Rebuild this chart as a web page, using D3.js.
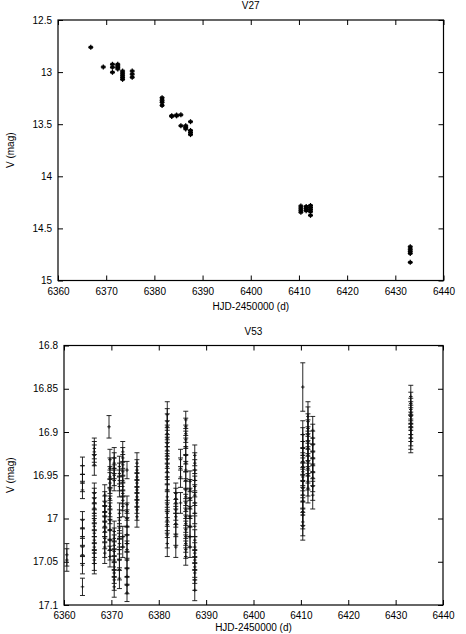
<!DOCTYPE html>
<html>
<head>
<meta charset="utf-8">
<script src="https://cdn.jsdelivr.net/npm/d3@7"></script>
<style>
  body { margin: 0; background: #fff; }
  text { font-family: "Liberation Sans", Arial, sans-serif; font-size: 10px; fill: #000; }
</style>
</head>
<body>
<div id="chart"></div>
<script>
// V27 nights: HJD-2450000, magnitudes on that night, typical error
const v27Hjd = [6366.8, 6369.4, 6371.3, 6372.4, 6373.4, 6375.4, 6381.6, 6383.6, 6384.6, 6385.5, 6386.5, 6387.5, 6410.4, 6411.5, 6412.4, 6433.1];
const v27Mag = [
  [12.762],
  [12.951],
  [12.925, 12.954, 13.002],
  [12.925, 12.94, 12.955, 12.97],
  [12.99, 13.01, 13.03, 13.05, 13.07],
  [12.99, 13.02, 13.05],
  [13.246, 13.27, 13.29, 13.32],
  [13.418, 13.425],
  [13.412, 13.42],
  [13.41, 13.515],
  [13.515, 13.53, 13.545],
  [13.476, 13.56, 13.58, 13.6],
  [14.285, 14.305, 14.325, 14.345],
  [14.29, 14.31, 14.33],
  [14.28, 14.3, 14.32, 14.34, 14.375],
  [14.676, 14.70, 14.72, 14.74, 14.826]
];
const v27Err = [0.008, 0.008, 0.008, 0.008, 0.008, 0.008, 0.008, 0.008, 0.008, 0.008, 0.008, 0.008, 0.008, 0.008, 0.008, 0.008];

// V53 nights
const v53Hjd = [6360.6, 6363.9, 6366.4, 6368.6, 6369.5, 6369.7, 6370.6, 6371.7, 6372.4, 6373.3, 6375.4,
                6381.8, 6383.6, 6384.6, 6385.7, 6386.6, 6387.6, 6410.4, 6410.4, 6411.5, 6412.5, 6433.2];
const v53Mag = [
  [17.042, 17.048],
  [16.939, 16.949, 16.959, 16.967, 17.002, 17.011, 17.021, 17.033, 17.042, 17.054, 17.079],
  [16.919, 16.923, 16.927, 16.938, 16.971, 16.977, 16.982, 16.988, 16.994, 17.002, 17.009, 17.017, 17.025, 17.033, 17.040, 17.048, 17.052],
  [16.973, 16.981, 16.986, 16.992, 16.998, 17.004, 17.009, 17.015, 17.023, 17.033, 17.040],
  [16.894],
  [16.932, 16.942, 16.952, 16.959, 16.967, 16.977, 16.986, 16.994, 17.002, 17.013, 17.025, 17.036, 17.044],
  [16.930, 16.936, 16.942, 16.950, 16.956, 17.015, 17.023, 17.031, 17.038, 17.048, 17.056, 17.063, 17.071, 17.079],
  [16.940, 16.948, 16.956, 16.963, 16.994, 17.002, 17.011, 17.021, 17.029, 17.036, 17.048, 17.059, 17.069],
  [16.923, 16.930, 16.938, 16.946, 16.956, 16.963, 16.971, 16.979, 16.986, 17.021, 17.033],
  [16.944, 16.984, 16.992, 17.000, 17.009, 17.019, 17.029, 17.036, 17.048, 17.058, 17.067, 17.077, 17.086],
  [16.936, 16.944, 16.952, 16.959, 16.967, 16.975, 16.982, 16.990, 16.998],
  [16.880, 16.888, 16.894, 16.902, 16.907, 16.913, 16.921, 16.927, 16.932, 16.940, 16.946, 16.952, 16.967, 16.975, 16.984, 16.994, 17.002, 17.007, 17.019, 17.029],
  [16.971, 16.977, 16.982, 16.990, 16.998, 17.006, 17.019, 17.033],
  [16.932, 16.942, 16.952, 16.982],
  [16.886, 16.894, 16.902, 16.909, 16.917, 16.927, 16.936, 16.944, 16.956, 16.967, 16.975, 16.982, 16.990, 16.998, 17.006, 17.013, 17.021, 17.029, 17.036, 17.044],
  [16.957, 16.967, 16.977, 16.988, 16.998, 17.009, 17.021, 17.033],
  [16.927, 16.936, 16.944, 16.956, 16.963, 16.973, 16.982, 16.994, 17.009, 17.025, 17.033, 17.040, 17.048, 17.056, 17.063, 17.071, 17.083],
  [16.848],
  [16.903, 16.911, 16.919, 16.927, 16.934, 16.940, 16.946, 16.952, 16.957, 16.965, 16.973, 16.980, 16.992, 16.996, 17.004, 17.009],
  [16.882, 16.888, 16.896, 16.903, 16.911, 16.919, 16.927, 16.934, 16.942, 16.950, 16.957, 16.965],
  [16.898, 16.907, 16.915, 16.923, 16.930, 16.938, 16.946, 16.953, 16.963, 16.973],
  [16.859, 16.867, 16.874, 16.878, 16.882, 16.890, 16.894, 16.898, 16.903, 16.907, 16.911]
];
const v53Err = [0.013, 0.010, 0.012, 0.012, 0.013, 0.012, 0.012, 0.012, 0.012, 0.010, 0.012,
                0.015, 0.012, 0.012, 0.010, 0.012, 0.012, 0.028, 0.016, 0.017, 0.016, 0.013];

const hjdTicks = [6360, 6370, 6380, 6390, 6400, 6410, 6420, 6430, 6440];
const v27Ticks = [12.5, 13, 13.5, 14, 14.5, 15];
const v53Ticks = [16.8, 16.85, 16.9, 16.95, 17, 17.05, 17.1];

const W = 466, H = 634;
const svg = d3.select("#chart").append("svg").attr("width", W).attr("height", H);
svg.append("rect").attr("width", W).attr("height", H).attr("fill", "#fff");

function flatten(hjd, mags, errs) {
  const out = [];
  hjd.forEach((t, i) => mags[i].forEach(m => out.push({ t, m, e: errs[i] })));
  return out;
}

function panel(opt) {
  const x = d3.scaleLinear().domain([6360, 6440]).range([opt.left, opt.right]);
  const y = d3.scaleLinear().domain(opt.ydom).range([opt.top, opt.bottom]);
  const g = svg.append("g");

  const fmt = d => String(d);
  g.append("g").attr("transform", `translate(0,${opt.bottom})`)
    .call(d3.axisBottom(x).tickValues(hjdTicks).tickFormat(fmt).tickSize(-5).tickPadding(7));
  g.append("g").attr("transform", `translate(0,${opt.top})`)
    .call(d3.axisTop(x).tickValues(hjdTicks).tickFormat("").tickSize(-5));
  g.append("g").attr("transform", `translate(${opt.left},0)`)
    .call(d3.axisLeft(y).tickValues(opt.yticks).tickFormat(fmt).tickSize(-5).tickPadding(6));
  g.append("g").attr("transform", `translate(${opt.right},0)`)
    .call(d3.axisRight(y).tickValues(opt.yticks).tickFormat("").tickSize(-5));
  g.selectAll(".domain").remove();
  g.selectAll(".tick line").attr("stroke", "#000");
  g.selectAll(".tick text").style("font-size", "10px").attr("fill", "#000");

  g.append("rect")
    .attr("x", opt.left).attr("y", opt.top)
    .attr("width", opt.right - opt.left).attr("height", opt.bottom - opt.top)
    .attr("fill", "none").attr("stroke", "#000").attr("stroke-width", 1.2);

  // error bars with caps and + markers
  const pts = flatten(opt.hjd, opt.mags, opt.errs);
  const m = g.append("g").attr("stroke", opt.col).attr("stroke-width", opt.sw);
  const p = pts.map(d => ({ cx: x(d.t), cy: y(d.m), y0: y(d.m - d.e), y1: y(d.m + d.e) }));
  m.selectAll(".bar").data(p).join("line")
    .attr("x1", d => d.cx).attr("x2", d => d.cx).attr("y1", d => d.y0).attr("y2", d => d.y1);
  m.selectAll(".cap0").data(p).join("line")
    .attr("x1", d => d.cx - opt.cap).attr("x2", d => d.cx + opt.cap).attr("y1", d => d.y0).attr("y2", d => d.y0);
  m.selectAll(".cap1").data(p).join("line")
    .attr("x1", d => d.cx - opt.cap).attr("x2", d => d.cx + opt.cap).attr("y1", d => d.y1).attr("y2", d => d.y1);
  m.selectAll(".ph").data(p).join("line")
    .attr("x1", d => d.cx - opt.ps).attr("x2", d => d.cx + opt.ps).attr("y1", d => d.cy).attr("y2", d => d.cy);
  m.selectAll(".pv").data(p).join("line")
    .attr("x1", d => d.cx).attr("x2", d => d.cx).attr("y1", d => d.cy - opt.ps).attr("y2", d => d.cy + opt.ps);

  const cx = (opt.left + opt.right) / 2;
  g.append("text").attr("x", cx).attr("y", opt.top - 11).attr("text-anchor", "middle").text(opt.title);
  g.append("text").attr("x", cx).attr("y", Math.min(opt.bottom + 29, H - 3)).attr("text-anchor", "middle").text("HJD-2450000 (d)");
  g.append("text")
    .attr("transform", `translate(14,${(opt.top + opt.bottom) / 2}) rotate(-90)`)
    .attr("text-anchor", "middle").text("V (mag)");
}

panel({ title: "V27", left: 58, right: 443.5, top: 20, bottom: 280.5, ydom: [12.5, 15],
        yticks: v27Ticks, hjd: v27Hjd, mags: v27Mag, errs: v27Err, cap: 2, ps: 2.5, sw: 1.3, col: "#000" });
panel({ title: "V53", left: 64, right: 443, top: 345.5, bottom: 605, ydom: [16.8, 17.1],
        yticks: v53Ticks, hjd: v53Hjd, mags: v53Mag, errs: v53Err, cap: 2.5, ps: 1.8, sw: 0.9, col: "#111" });
</script>
</body>
</html>
